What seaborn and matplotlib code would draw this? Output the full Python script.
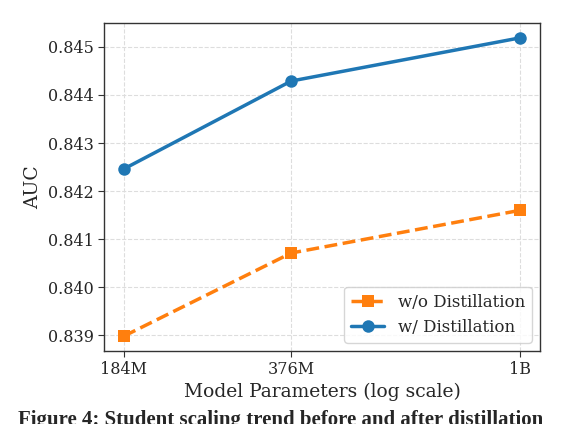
import numpy as np
import pandas as pd
import matplotlib
matplotlib.use("Agg")
import matplotlib.pyplot as plt
import seaborn as sns
from matplotlib.ticker import FixedLocator, NullLocator

# ── Data ──────────────────────────────────────────────────────────────────────
params = [184e6, 376e6, 1e9]
param_labels = ['184M', '376M', '1B']
auc_without = [0.83898, 0.84071, 0.84160]
auc_with = [0.84246, 0.84429, 0.84519]

df = pd.DataFrame({
    'params': params * 2,
    'auc': auc_without + auc_with,
    'setting': ['w/o Distillation'] * 3 + ['w/ Distillation'] * 3,
})

# ── Plot ──────────────────────────────────────────────────────────────────────
sns.set_style('white')
plt.rcParams['font.family'] = ['DejaVu Serif']

fig = plt.figure(figsize=(5.62, 4.24), dpi=100)
ax = fig.add_axes([0.185, 0.172, 0.776, 0.774])

ORANGE, BLUE = '#ff7f0e', '#1f77b4'
sns.lineplot(data=df[df['setting'] == 'w/o Distillation'], x='params', y='auc',
             color=ORANGE, marker='s', markersize=9, linewidth=2.5,
             linestyle='--', markeredgewidth=0, label='w/o Distillation', ax=ax)
sns.lineplot(data=df[df['setting'] == 'w/ Distillation'], x='params', y='auc',
             color=BLUE, marker='o', markersize=9, linewidth=2.5,
             markeredgewidth=0, label='w/ Distillation', ax=ax)

ax.set_xscale('log')
ax.xaxis.set_major_locator(FixedLocator(params))
ax.xaxis.set_minor_locator(NullLocator())
ax.set_xticklabels(param_labels)
ax.set_yticks([0.839, 0.840, 0.841, 0.842, 0.843, 0.844, 0.845])
ax.yaxis.set_major_formatter(matplotlib.ticker.FormatStrFormatter('%.3f'))
ax.tick_params(axis='both', labelsize=11.5, length=4, color='#333333',
               bottom=True, left=True)

ax.grid(True, linestyle='--', color='#dddddd', linewidth=0.8)
for s in ax.spines.values():
    s.set_color('#333333')
    s.set_linewidth(1.0)

ax.set_xlabel('Model Parameters (log scale)', fontsize=13.5, labelpad=3)
ax.set_ylabel('AUC', fontsize=13.5)
ax.legend(loc='lower right', fontsize=12, framealpha=0.8)

# caption of the paper figure
fig.text(0.5, 0.032, 'Figure 4: Student scaling trend before and after distillation',
         ha='center', va='top', fontsize=15, fontweight='bold',
         family=['Liberation Serif'])

plt.savefig('out.png', dpi=100)
